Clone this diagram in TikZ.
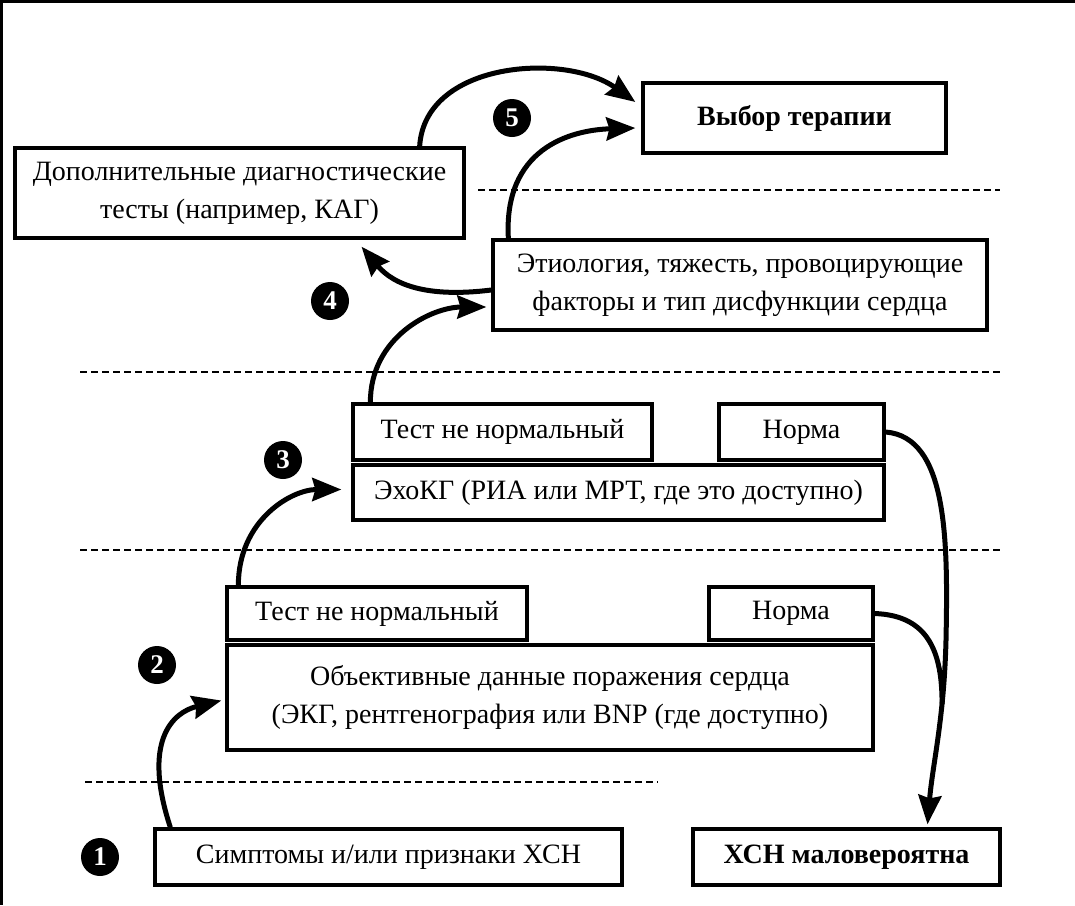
\documentclass[tikz,border=0pt]{standalone}
\usepackage{fontspec}
\setmainfont{Liberation Serif}
\usetikzlibrary{arrows.meta}
\tikzset{
  box/.style={draw=black, line width=3.3pt, fill=white, inner sep=0pt, align=center, font=\fontsize{28}{38}\selectfont},
  bbox/.style={box, font=\fontsize{28}{38}\selectfont\bfseries},
  num/.style={circle, fill=black, text=white, inner sep=0pt, minimum size=38pt, font=\fontsize{27}{27}\selectfont\bfseries},
  conn/.style={line width=5pt, -{Stealth[length=29pt,width=23pt,inset=3pt]}},
  connplain/.style={line width=5pt},
  sep/.style={line width=2pt, dash pattern=on 7pt off 4pt},
}
\begin{document}
\begin{tikzpicture}[x=1pt,y=-1pt]
\useasboundingbox (0,0) rectangle (1075,905);
\fill[white] (0,0) rectangle (1075,905);
% frame
\draw[line width=3pt] (0,1.5) -- (1075,1.5);
\draw[line width=3pt] (1.5,0) -- (1.5,905);

% separators
\draw[sep] (478,190) -- (1000,190);
\draw[sep] (80,372) -- (1003,372);
\draw[sep] (80,550) -- (1003,550);
\draw[sep] (85,782) -- (658,782);

% boxes
\node[bbox, minimum width=303pt, minimum height=70pt] (ther) at (794.5,118) {Выбор терапии};
\node[box, minimum width=449pt, minimum height=90pt] (dop) at (239.5,193) {Дополнительные диагностические\\тесты (например, КАГ)};
\node[box, minimum width=494pt, minimum height=90pt] (etio) at (740,285) {Этиология, тяжесть, провоцирующие\\факторы и тип дисфункции сердца};
\node[box, minimum width=299pt, minimum height=56pt] (tnn1) at (502.5,432) {Тест не нормальный};
\node[box, minimum width=165pt, minimum height=56pt] (norm1) at (801.5,432) {Норма};
\node[box, minimum width=531pt, minimum height=55pt] (echo) at (618.5,492.5) {ЭхоКГ (РИА или МРТ, где это доступно)};
\node[box, minimum width=300pt, minimum height=53pt] (tnn2) at (377,613.5) {Тест не нормальный};
\node[box, minimum width=164pt, minimum height=53pt] (norm2) at (791,613.5) {Норма};
\node[box, minimum width=646pt, minimum height=105pt] (obj) at (550,697.5) {Объективные данные поражения сердца\\(ЭКГ, рентгенография или BNP (где доступно)};
\node[box, minimum width=467pt, minimum height=56pt] (sym) at (388.5,857) {Симптомы и/или признаки ХСН};
\node[bbox, minimum width=307pt, minimum height=56pt] (hsn) at (846.5,857) {ХСН маловероятна};

% numbers
\node[num] (n1) at (100,857) {1};
\node[num] (n2) at (157,665) {2};
\node[num] (n3) at (283,460) {3};
\node[num] (n4) at (330,301) {4};
\node[num] (n5) at (512,118) {5};

% connectors
\draw[conn] ([xshift=17pt]sym.north west) .. controls +(-28,-85) and +(-50,12) .. ([xshift=-4pt,yshift=-3pt]obj.west);
\draw[conn] ([xshift=13pt]tnn2.north west) .. controls +(0,-65) and +(-50,0) .. ([xshift=-10pt,yshift=3pt]echo.west);
\draw[conn] ([xshift=19pt]tnn1.north west) .. controls +(0,-65) and +(-55,0) .. ([xshift=-5pt,yshift=-22pt]etio.west);
\draw[conn] ([yshift=-5pt]etio.west) .. controls +(-65,8) and +(32,38) .. ([xshift=122pt,yshift=-7pt]dop.south);
\draw[conn] ([xshift=17pt]etio.north west) .. controls +(-5,-90) and +(-65,2) .. ([xshift=-6pt,yshift=-10pt]ther.west);
\draw[conn] ([xshift=-46pt]dop.north east) .. controls +(5,-85) and +(-70,-50) .. ([xshift=-6pt,yshift=16pt]ther.west);
\draw[connplain] (norm1.east) .. controls +(62,5) and +(2,-100) .. (946,640) coordinate (mid);
\draw[conn] (mid) .. controls +(-2,80) and +(5,-60) .. ([xshift=81pt,yshift=3pt]hsn.north) node[coordinate, pos=0.3] (mrg) {};
\draw[connplain] (norm2.east) .. controls +(55,2) and +(0,-50) .. (mrg);
\end{tikzpicture}
\end{document}
